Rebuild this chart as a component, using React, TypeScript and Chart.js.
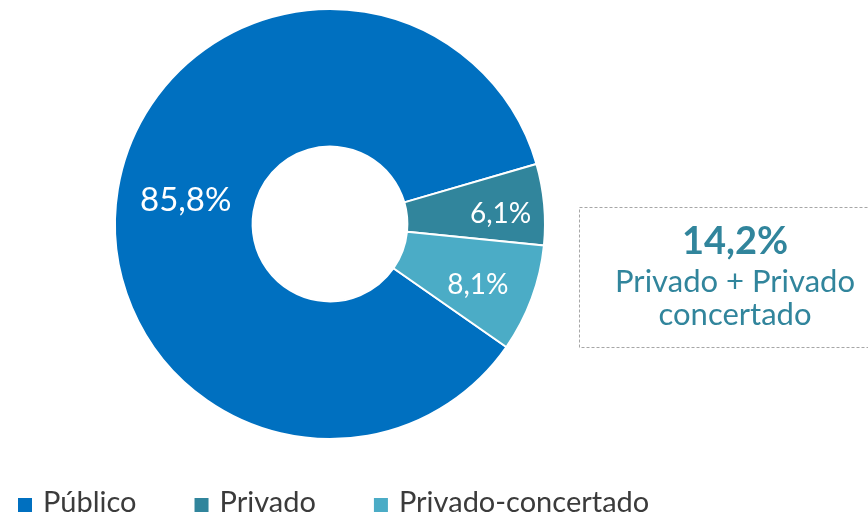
import React, { useEffect, useRef } from "react";
import { Chart, registerables } from "chart.js";

Chart.register(...registerables);

const categories = ["Público", "Privado", "Privado-concertado"];
const shares = [85.8, 6.1, 8.1];
const valueLabels = ["85,8%", "6,1%", "8,1%"];
const calloutValue = "14,2%";
const calloutLines = ["Privado + Privado", "concertado"];

const COLORS = ["#0070C0", "#31859C", "#4BACC6"];
const TEAL = "#31859C";
const FONT = "Lato, 'Open Sans', sans-serif";

// label placement inside each arc: fraction across ring thickness and along the arc span
const LABEL_RADIAL = [0.5, 0.68, 0.6];
const LABEL_ANGULAR = [0.5, 0.58, 0.575];
const LABEL_FONT = [33, 28, 28];

const sliceLabels = {
  id: "sliceLabels",
  afterDatasetsDraw(chart: any) {
    const ctx = chart.ctx;
    const meta = chart.getDatasetMeta(0);
    ctx.save();
    ctx.fillStyle = "#FFFFFF";
    ctx.textAlign = "center";
    ctx.textBaseline = "middle";
    meta.data.forEach((arc: any, i: number) => {
      const p = arc.getProps(["x", "y", "startAngle", "endAngle", "innerRadius", "outerRadius"], true);
      const a = p.startAngle + (p.endAngle - p.startAngle) * LABEL_ANGULAR[i];
      const r = p.innerRadius + (p.outerRadius - p.innerRadius) * LABEL_RADIAL[i];
      ctx.font = `${LABEL_FONT[i]}px ${FONT}`;
      ctx.fillText(valueLabels[i], p.x + Math.cos(a) * r, p.y + Math.sin(a) * r);
    });
    ctx.restore();
  },
};

const customLegend = {
  id: "customLegend",
  afterDraw(chart: any) {
    const ctx = chart.ctx;
    const labels = chart.data.labels as string[];
    const colors = chart.data.datasets[0].backgroundColor as string[];
    ctx.save();
    ctx.font = `29px ${FONT}`;
    ctx.textBaseline = "alphabetic";
    ctx.textAlign = "left";
    let x = 18;
    const baseline = 512;
    const box = 14;
    labels.forEach((lab, i) => {
      ctx.fillStyle = colors[i];
      ctx.fillRect(x, baseline - box, box, box);
      const tx = x + box + 11;
      ctx.fillStyle = "#3B3B3B";
      ctx.fillText(lab, tx, baseline);
      x = tx + ctx.measureText(lab).width + 58;
    });
    ctx.restore();
  },
};

const callout = {
  id: "callout",
  afterDraw(chart: any) {
    const ctx = chart.ctx;
    ctx.save();
    ctx.strokeStyle = "#A6A6A6";
    ctx.lineWidth = 1;
    ctx.setLineDash([3, 2]);
    ctx.strokeRect(579.5, 207.5, 300, 140);
    ctx.setLineDash([]);
    ctx.fillStyle = TEAL;
    ctx.textAlign = "center";
    ctx.textBaseline = "alphabetic";
    const cx = 735;
    ctx.font = `bold 38px ${FONT}`;
    ctx.fillText(calloutValue, cx, 254);
    ctx.font = `31px ${FONT}`;
    ctx.fillText(calloutLines[0], cx, 292);
    ctx.fillText(calloutLines[1], cx, 325);
    ctx.restore();
  },
};

export default function App() {
  const ref = useRef<HTMLCanvasElement | null>(null);
  useEffect(() => {
    if (!ref.current) return;
    const chart = new Chart(ref.current, {
      type: "doughnut",
      data: {
        labels: categories,
        datasets: [
          {
            data: shares,
            backgroundColor: COLORS,
            borderColor: "#FFFFFF",
            borderWidth: 2,
          },
        ],
      },
      options: {
        responsive: false,
        animation: false,
        devicePixelRatio: 1,
        cutout: "36%",
        rotation: 124.9,
        layout: { padding: { left: 114, right: 322, top: 8, bottom: 76 } },
        plugins: {
          legend: { display: false },
          tooltip: { enabled: false },
        },
      },
      plugins: [sliceLabels, customLegend, callout],
    });
    return () => chart.destroy();
  }, []);
  return (
    <div style={{ position: "absolute", left: 0, top: 0, width: 868, height: 516, background: "#fff" }}>
      <canvas ref={ref} width={868} height={516} style={{ display: "block" }} />
    </div>
  );
}
